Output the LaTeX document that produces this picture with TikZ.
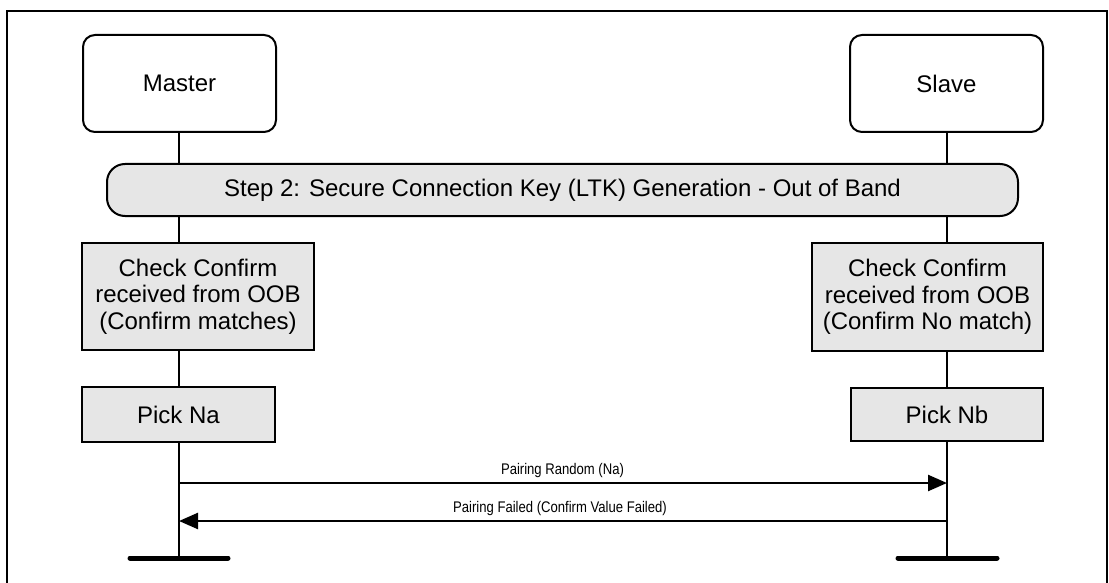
\documentclass[tikz,border=0pt]{standalone}
\usepackage{fontspec}
\setmainfont{Liberation Sans}
\newfontfamily\narrowfont[FakeStretch=0.85]{Liberation Sans}
\usetikzlibrary{arrows.meta,backgrounds}
\definecolor{boxgray}{HTML}{E6E6E6}
\tikzset{
  every node/.style={inner sep=0pt,outer sep=0pt},
  actor/.style={draw,line width=2pt,rounded corners=12pt,fill=white,
    minimum width=193pt,minimum height=97pt,font=\fontsize{24}{27}\selectfont},
  phase/.style={draw,line width=2pt,rounded corners=18pt,fill=boxgray,
    minimum width=911pt,minimum height=52pt,font=\fontsize{24}{27}\selectfont},
  actbox/.style={draw,line width=2pt,fill=boxgray,align=center,
    font=\fontsize{24}{26.7}\selectfont},
  life/.style={line width=2pt},
  endbar/.style={line width=5pt,line cap=round},
  msg/.style={line width=2.4pt,-{Triangle[length=19pt,width=16pt]}},
  msglabel/.style={font=\narrowfont\fontsize{15.4}{18}\selectfont},
  frame/.style={line width=2pt}
}
\begin{document}
\begin{tikzpicture}[x=1pt,y=-1pt]
\useasboundingbox (0,0) rectangle (1109,583);
\draw[frame] (7,600) -- (7,11) -- (1107,11) -- (1107,600);

\node[actor] (master) at (179.5,83.5) {Master};
\node[actor] (slave) at (946.5,83.5) {Slave};
\node[phase] (step) at (562.5,190) {Step 2: Secure Connection Key (LTK) Generation - Out of Band};
\node[actbox,minimum width=232pt,minimum height=107pt] (chkA) at (198,296.5)
  {Check Confirm\\received from OOB\\(Confirm matches)};
\node[actbox,minimum width=231pt,minimum height=108pt] (chkB) at (927.5,297)
  {Check Confirm\\received from OOB\\(Confirm No match)};
\node[actbox,minimum width=193pt,minimum height=55pt] (pickA) at (178.5,414.5) {Pick Na};
\node[actbox,minimum width=192pt,minimum height=53pt] (pickB) at (947,414.5) {Pick Nb};

\coordinate (endA) at (179,558);
\coordinate (endB) at (947,558);
\coordinate (barAl) at (130,558);
\coordinate (barAr) at (228,558);
\coordinate (barBl) at (898,558);
\coordinate (barBr) at (997,558);
\coordinate (m1a) at (179,483);
\coordinate (m1b) at (947,483);
\coordinate (m2a) at (947,521);
\coordinate (m2b) at (179,521);

\begin{pgfonlayer}{background}
\draw[life] (master.south -| endA) -- (endA);
\draw[life] (slave.south -| endB) -- (endB);
\end{pgfonlayer}

\draw[endbar] (barAl) -- (barAr);
\draw[endbar] (barBl) -- (barBr);

\draw[msg] (m1a) -- (m1b);
\draw[msg] (m2a) -- (m2b);
\node[msglabel] (l1) at (562.5,471) {Pairing Random (Na)};
\node[msglabel] (l2) at (560,509) {Pairing Failed (Confirm Value Failed)};
\end{tikzpicture}
\end{document}
